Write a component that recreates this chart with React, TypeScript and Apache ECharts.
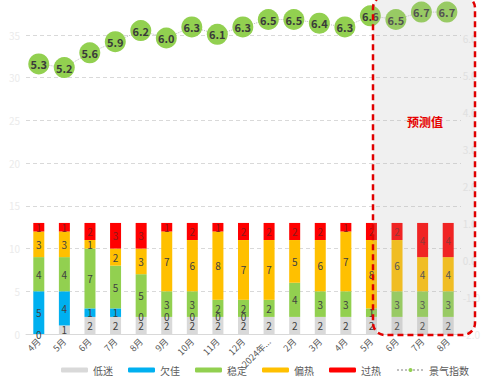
import React, { useEffect, useRef } from "react";
import * as echarts from "echarts";

const categories = ["4月", "5月", "6月", "7月", "8月", "9月", "10月", "11月", "12月", "2024年1月", "2月", "3月", "4月", "5月", "6月", "7月", "8月"];
const lowValues = [0, 1, 2, 2, 2, 2, 2, 2, 2, 2, 2, 2, 2, 2, 2, 2, 2];
const poorValues = [5, 4, 1, 1, 0, 0, 0, 0, 0, null, null, null, null, null, null, null, null];
const stableValues = [4, 4, 7, 5, 5, 3, 3, 2, 2, 2, 4, 3, 3, 1, 3, 3, 3];
const warmValues = [3, 3, 1, 2, 3, 7, 6, 8, 7, 7, 5, 6, 7, 8, 6, 4, 4];
const hotValues = [1, 1, 2, 3, 3, 1, 2, 1, 2, 2, 2, 2, 1, 2, 2, 4, 4];
const indexValues = [5.3, 5.2, 5.6, 5.9, 6.2, 6.0, 6.3, 6.1, 6.3, 6.5, 6.5, 6.4, 6.3, 6.6, 6.5, 6.7, 6.7];
const seriesNames = ["低迷", "欠佳", "稳定", "偏热", "过热", "景气指数"];
const seriesColors = ["#d9d9d9", "#00b0f0", "#92d050", "#ffc000", "#ff0000"];
const forecastLabel = "预测值";

const FONT = '"Noto Sans CJK SC", "Liberation Sans", sans-serif';

export default function App() {
  const ref = useRef<HTMLDivElement>(null);
  useEffect(() => {
    if (!ref.current) return;
    const chart = echarts.init(ref.current, null, { renderer: "svg" });
    const barData = [lowValues, poorValues, stableValues, warmValues, hotValues];
    const barSeries = barData.map((d, i) => ({
      name: seriesNames[i],
      type: "bar",
      stack: "total",
      xAxisIndex: 0,
      yAxisIndex: 0,
      barWidth: 11,
      data: d,
      itemStyle: { color: seriesColors[i] },
      label: {
        show: true,
        position: "inside",
        fontSize: 10,
        color: i === 4 ? "#8b1a1a" : "#404040",
        fontFamily: FONT,
      },
    }));
    chart.setOption({
      animation: false,
      textStyle: { fontFamily: FONT },
      grid: [
        { left: 26, right: 22, top: 35, bottom: 45 },
        { left: 26, right: 22, top: 38, bottom: 45 },
      ],
      xAxis: [
        {
          type: "category",
          gridIndex: 0,
          data: categories,
          axisTick: { show: false },
          axisLine: { lineStyle: { color: "#d9d9d9" } },
          axisLabel: {
            interval: 0,
            rotate: 45,
            fontSize: 9,
            color: "#595959",
            margin: 6,
            width: 38,
            overflow: "truncate",
            ellipsis: "...",
          },
        },
        {
          type: "category",
          gridIndex: 1,
          data: categories,
          show: false,
        },
      ],
      yAxis: [
        {
          type: "value",
          gridIndex: 0,
          min: 0,
          max: 35,
          interval: 5,
          axisLine: { show: false },
          axisTick: { show: false },
          axisLabel: { color: "#ebebeb", fontSize: 10, margin: 6 },
          splitLine: { lineStyle: { color: "#d9d9d9", type: [4, 3] } },
        },
        {
          type: "value",
          gridIndex: 1,
          position: "right",
          min: -2,
          max: 6,
          interval: 1,
          axisLine: { show: false },
          axisTick: { show: false },
          axisLabel: {
            color: "#ebebeb",
            fontSize: 10,
            margin: 3,
            formatter: (v: number) => v.toFixed(1),
          },
          splitLine: { show: false },
        },
      ],
      legend: {
        data: seriesNames,
        left: 61,
        top: 365,
        width: 422,
        padding: 0,
        itemWidth: 27,
        itemHeight: 5,
        itemGap: 15,
        textStyle: { fontSize: 10, color: "#595959" },
      },
      series: [
        ...barSeries,
        {
          name: seriesNames[5],
          type: "line",
          xAxisIndex: 1,
          yAxisIndex: 1,
          data: indexValues,
          clip: false,
          showSymbol: true,
          showAllSymbol: true,
          symbol: "circle",
          symbolSize: 21,
          itemStyle: { color: "#92d050" },
          lineStyle: { color: "#bfbfbf", width: 1, type: "dotted" },
          labelLayout: { hideOverlap: false },
          label: {
            show: true,
            position: "inside",
            fontSize: 11,
            fontWeight: "bold",
            color: "#3a3a3a",
            formatter: (p: any) => Number(p.value).toFixed(1),
          },
          z: 5,
        },
      ],
      graphic: [
        {
          type: "rect",
          z: 100,
          shape: { x: 373, y: -4, width: 102, height: 339, r: 12 },
          style: {
            fill: "rgba(180,180,180,0.2)",
            stroke: "#e00000",
            lineWidth: 2.5,
            lineDash: [6, 4],
          },
        },
        {
          type: "text",
          z: 101,
          x: 425,
          y: 121,
          style: {
            text: forecastLabel,
            fill: "#e60000",
            font: `bold 12px ${FONT}`,
            textAlign: "center",
            textVerticalAlign: "middle",
          },
        },
      ],
    });
    return () => chart.dispose();
  }, []);
  return (
    <div
      ref={ref}
      style={{ position: "fixed", left: 0, top: 0, width: 483, height: 379, background: "#fff" }}
    />
  );
}
